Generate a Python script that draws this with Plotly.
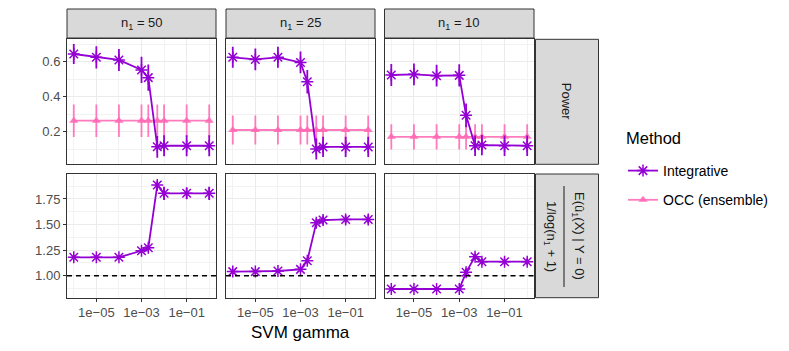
import plotly.graph_objects as go

W, H = 789, 351

gamma = [1e-6, 1e-5, 1e-4, 1e-3, 2e-3, 5e-3, 1e-2, 1e-1, 1]
panels = ['50', '25', '10']

power_int = {
    '50': [0.644, 0.625, 0.610, 0.553, 0.509, 0.114, 0.120, 0.120, 0.120],
    '25': [0.625, 0.613, 0.625, 0.596, 0.486, 0.101, 0.113, 0.113, 0.113],
    '10': [0.524, 0.528, 0.520, 0.522, 0.294, 0.120, 0.124, 0.120, 0.120],
}
power_int_err = {
    '50': [0.057, 0.064, 0.063, 0.075, 0.075, 0.062, 0.060, 0.060, 0.060],
    '25': [0.060, 0.062, 0.060, 0.062, 0.067, 0.060, 0.058, 0.058, 0.058],
    '10': [0.063, 0.062, 0.062, 0.063, 0.068, 0.058, 0.058, 0.058, 0.058],
}
power_occ = {
    '50': [0.263, 0.263, 0.263, 0.263, 0.263, 0.263, 0.263, 0.263, 0.263],
    '25': [0.210, 0.210, 0.210, 0.210, 0.210, 0.210, 0.210, 0.210, 0.210],
    '10': [0.171, 0.171, 0.171, 0.171, 0.171, 0.171, 0.171, 0.171, 0.171],
}
power_occ_err = {
    '50': [0.093] * 9,
    '25': [0.083] * 9,
    '10': [0.072] * 9,
}
ratio_int = {
    '50': [1.180, 1.180, 1.180, 1.244, 1.273, 1.886, 1.805, 1.805, 1.805],
    '25': [1.040, 1.040, 1.046, 1.062, 1.146, 1.517, 1.544, 1.550, 1.550],
    '10': [0.870, 0.870, 0.870, 0.870, 1.033, 1.186, 1.137, 1.137, 1.137],
}
ratio_int_err = {
    '50': [0.020, 0.020, 0.020, 0.025, 0.030, 0.040, 0.065, 0.055, 0.065],
    '25': [0.018, 0.018, 0.018, 0.020, 0.030, 0.040, 0.045, 0.040, 0.040],
    '10': [0.018, 0.018, 0.018, 0.020, 0.040, 0.030, 0.030, 0.030, 0.030],
}

PURPLE = '#9400D3'
PINK = 'rgba(255,105,180,0.88)'

# panel geometry in pixels
col_px = [(67, 216), (226, 375), (384.5, 534)]
row_px = [(39.3, 164.3), (174, 297.7)]


def px_x(p):
    return p / W


def px_y(p):
    return 1 - p / H


def label(fig, x, y, text, size=13, color='#1A1A1A', angle=0, xanchor='center'):
    fig.add_annotation(xref='paper', yref='paper', x=px_x(x), y=px_y(y),
                       text=text, textangle=angle, showarrow=False,
                       xanchor=xanchor, yanchor='middle',
                       font=dict(size=size, color=color))


fig = go.Figure()

for c, n in enumerate(panels):
    for r in range(2):
        idx = r * 3 + c + 1
        xa = 'x' if idx == 1 else f'x{idx}'
        ya = 'y' if idx == 1 else f'y{idx}'
        if r == 0:
            fig.add_trace(go.Scatter(
                x=gamma, y=power_occ[n], xaxis=xa, yaxis=ya,
                mode='lines+markers', name='OCC (ensemble)', legendgroup='occ',
                showlegend=(c == 0), legendrank=2,
                line=dict(color=PINK, width=1.8),
                marker=dict(symbol='triangle-up', size=8, color=PINK),
                error_y=dict(type='data', array=power_occ_err[n], color=PINK,
                             thickness=1.8, width=0)))
            fig.add_trace(go.Scatter(
                x=gamma, y=power_int[n], xaxis=xa, yaxis=ya,
                mode='lines+markers', name='Integrative', legendgroup='int',
                showlegend=(c == 0), legendrank=1,
                line=dict(color=PURPLE, width=1.8),
                marker=dict(symbol='asterisk-open', size=10,
                            line=dict(color=PURPLE, width=1.5)),
                error_y=dict(type='data', array=power_int_err[n], color=PURPLE,
                             thickness=1.8, width=0)))
        else:
            fig.add_shape(type='line', xref=f'{xa} domain', yref=ya,
                          x0=0, x1=1, y0=1, y1=1,
                          line=dict(color='black', width=1.6, dash='5px,4px'),
                          layer='above')
            fig.add_trace(go.Scatter(
                x=gamma, y=ratio_int[n], xaxis=xa, yaxis=ya,
                mode='lines+markers', name='Integrative', legendgroup='int',
                showlegend=False,
                line=dict(color=PURPLE, width=1.8),
                marker=dict(symbol='asterisk-open', size=10,
                            line=dict(color=PURPLE, width=1.5)),
                error_y=dict(type='data', array=ratio_int_err[n], color=PURPLE,
                             thickness=1.8, width=0)))

        xkey = 'xaxis' if idx == 1 else f'xaxis{idx}'
        ykey = 'yaxis' if idx == 1 else f'yaxis{idx}'
        x0, x1 = col_px[c]
        y0, y1 = row_px[r]
        fig.layout[xkey] = dict(
            type='log', range=[-6.3, 0.3], anchor=ya,
            domain=[px_x(x0), px_x(x1)],
            tickvals=[1e-5, 1e-3, 1e-1], ticktext=['1e\u221205', '1e\u221203', '1e\u221201'],
            showticklabels=(r == 1), ticks='outside' if r == 1 else '',
            ticklen=3, tickcolor='#333333',
            showgrid=True, gridcolor='#EBEBEB', gridwidth=1.1,
            minor=dict(tickvals=[1e-6, 1e-4, 1e-2, 1], showgrid=True,
                       gridcolor='#F2F2F2', gridwidth=0.6),
            showline=True, mirror=True, linecolor='#333333', linewidth=1,
            zeroline=False, tickfont=dict(size=13, color='#4D4D4D'))
        if r == 0:
            yd = dict(range=[0.014, 0.728], tickvals=[0.2, 0.4, 0.6],
                      ticktext=['0.2', '0.4', '0.6'],
                      minor=dict(tickvals=[0.1, 0.3, 0.5, 0.7], showgrid=True,
                                 gridcolor='#F2F2F2', gridwidth=0.6))
        else:
            yd = dict(range=[0.785, 1.994], tickvals=[1.0, 1.25, 1.5, 1.75],
                      ticktext=['1.00', '1.25', '1.50', '1.75'],
                      minor=dict(tickvals=[0.875, 1.125, 1.375, 1.625, 1.875],
                                 showgrid=True, gridcolor='#F2F2F2', gridwidth=0.6))
        fig.layout[ykey] = dict(
            anchor=xa, domain=[px_y(y1), px_y(y0)],
            showticklabels=(c == 0), ticks='outside' if c == 0 else '',
            ticklen=3, tickcolor='#333333',
            showgrid=True, gridcolor='#EBEBEB', gridwidth=1.1,
            showline=True, mirror=True, linecolor='#333333', linewidth=1,
            zeroline=False, tickfont=dict(size=13, color='#4D4D4D'), **yd)

# strips
STRIP = '#D9D9D9'
for c, n in enumerate(panels):
    x0, x1 = col_px[c]
    fig.add_shape(type='rect', xref='paper', yref='paper',
                  x0=px_x(x0), x1=px_x(x1), y0=px_y(38), y1=px_y(9),
                  fillcolor=STRIP, line=dict(color='#333333', width=1))
    label(fig, (x0 + x1) / 2, 23.5, f'n<sub>1</sub> = {n}')

for r in range(2):
    y0, y1 = row_px[r]
    fig.add_shape(type='rect', xref='paper', yref='paper',
                  x0=px_x(535.5), x1=px_x(598.5), y0=px_y(y1), y1=px_y(y0),
                  fillcolor=STRIP, line=dict(color='#333333', width=1))

label(fig, 566, 101.8, 'Power', angle=90)
label(fig, 579, 236, 'E(û<sub>1</sub>(X) | Y = 0)', angle=90)
label(fig, 551, 236, '1/log(n<sub>1</sub> + 1)', angle=90)
fig.add_shape(type='line', xref='paper', yref='paper',
              x0=px_x(564), x1=px_x(564), y0=px_y(186), y1=px_y(287),
              line=dict(color='#1A1A1A', width=1))

label(fig, 300.5, 332, 'SVM gamma', size=17, color='black')
label(fig, 624, 137.5, 'Method', size=16.5, color='black', xanchor='left')

fig.update_layout(
    width=W, height=H,
    margin=dict(l=0, r=0, t=0, b=0),
    paper_bgcolor='white', plot_bgcolor='white',
    font=dict(family='Liberation Sans, Arial, sans-serif'),
    legend=dict(x=px_x(623), y=px_y(155), xanchor='left', yanchor='top',
                font=dict(size=14, color='black'), tracegroupgap=8,
                itemwidth=30, bgcolor='rgba(0,0,0,0)'),
)

fig.write_html('out.html', config={'displayModeBar': False},
               post_script="document.body.style.margin='0';")
